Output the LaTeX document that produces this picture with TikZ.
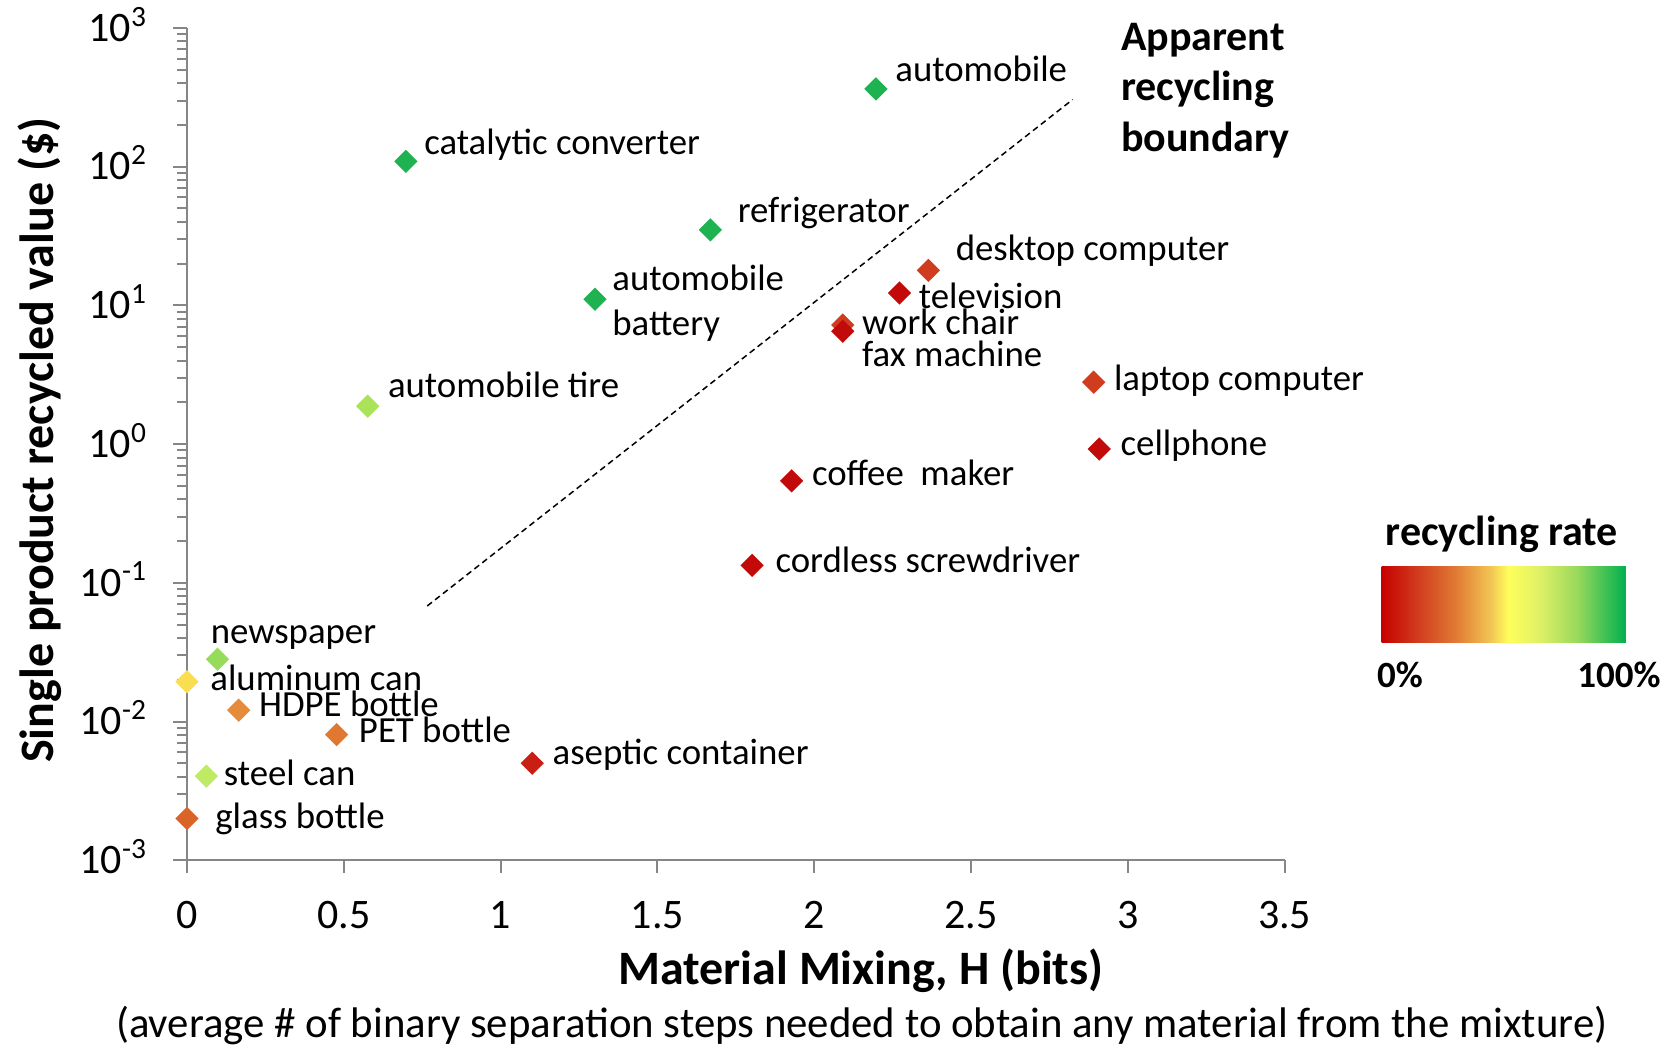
\documentclass[tikz,border=0pt]{standalone}
\usepackage{fontspec}
\setmainfont{Carlito}
\usepackage{tikz}
\usetikzlibrary{calc}
\usetikzlibrary{shapes.geometric}

\definecolor{axisgray}{RGB}{134,134,134}
\definecolor{cgreen}{RGB}{30,178,80}
\definecolor{ctire}{RGB}{170,226,90}
\definecolor{cnews}{RGB}{150,220,90}
\definecolor{calum}{RGB}{248,222,80}
\definecolor{chdpe}{RGB}{228,140,60}
\definecolor{cpet}{RGB}{224,120,50}
\definecolor{csteel}{RGB}{190,234,100}
\definecolor{cglass}{RGB}{218,100,40}
\definecolor{caseptic}{RGB}{200,30,20}
\definecolor{cdesk}{RGB}{208,60,30}
\definecolor{cdark}{RGB}{195,10,10}

\pgfdeclarehorizontalshading{recrate}{100bp}{rgb(0bp)=(0.78,0,0); rgb(25bp)=(0.78,0,0); rgb(32.5bp)=(0.82,0.24,0.12); rgb(40bp)=(0.88,0.47,0.2); rgb(47.5bp)=(0.95,0.78,0.33); rgb(51bp)=(1,1,0.36); rgb(57.5bp)=(0.87,0.94,0.4); rgb(65bp)=(0.6,0.85,0.36); rgb(75bp)=(0,0.69,0.31); rgb(100bp)=(0,0.69,0.31)}

\begin{document}
\begin{tikzpicture}[x=156.8pt,y=69.35pt,
    axis/.style={draw=axisgray,line width=1pt},
    prodmark/.style={diamond,fill=#1,inner sep=0pt,minimum size=11.8pt},
    lbl/.style={anchor=west,inner sep=0pt,text height=1.07em,text depth=0pt,font=\fontsize{18.4}{22.4}\selectfont},
    ticklbl/.style={inner sep=0pt,font=\fontsize{21}{25}\selectfont}]
    \useasboundingbox (-0.5963,-4.3338) rectangle (4.7449,3.2019);
    % axes and ticks
    \draw[axis] (0,3) -- (0,-3) -- (3.5,-3);
    \foreach \y in {-3,-2,-1,0,1,2,3}
        \draw[axis] (0,\y) -- ++(-7pt,0);
    \foreach \d in {-3,-2,-1,0,1,2}
        \foreach \k in {2,...,9}
            \draw[axis] (0,{\d+log10(\k)}) -- ++(-5pt,0);
    \foreach \x [count=\i] in {0,0.5,1,1.5,2,2.5,3,3.5}{
        \draw[axis] (\x,-3) -- ++(0,-6.5pt);
        \node[ticklbl] (xt\i) at ([yshift=-27.5pt]\x,-3) {\x};
    }
    \foreach \y [count=\i] in {-3,-2,-1,0,1,2,3}
        \node[ticklbl,anchor=base east] (yt\i) at ([xshift=-19.8pt,yshift=-6.6pt]0,\y) {10\textsuperscript{\y}};
    \node[rotate=90,font=\bfseries\fontsize{24}{28}\selectfont] (ytitle) at (-0.4703,0.028) {Single product recycled value (\$)};
    \node[font=\bfseries\fontsize{24}{28}\selectfont] (xtitle) at (2.149,-3.80) {Material Mixing, H (bits)};
    \node[font=\fontsize{21.4}{25}\selectfont] (xsub) at (2.152,-4.19) {(average \# of binary separation steps needed to obtain any material from the mixture)};
    % boundary
    \coordinate (bnd0) at (0.766,-1.167);
    \coordinate (bnd1) at (2.824,2.484);
    \draw[dashed,line width=0.75pt,dash pattern=on 3pt off 2pt] (bnd0) -- (bnd1);
    \node[anchor=north west,align=left,inner sep=0pt,font=\bfseries\fontsize{21}{25.4}\selectfont] (bndtxt) at (2.977,3.04) {Apparent\\recycling\\boundary};
    % products
    \foreach \n/\h/\v/\c/\dx/\dy/\t in {
        auto/2.197/2.561/cgreen/9.5/9/automobile,
        catconv/0.698/2.038/cgreen/9/9/catalytic converter,
        fridge/1.669/1.544/cgreen/13.5/9/refrigerator,
        tire/0.576/0.273/ctire/10/9.5/automobile tire,
        desktop/2.364/1.252/cdesk/13.5/10.5/desktop computer,
        tv/2.272/1.090/cdark/9.5/-2.5/television,
        chair/2.091/0.859/cdesk/9.5/0.5/work chair,
        fax/2.091/0.813/cdark/9.5/-12/fax machine,
        laptop/2.891/0.446/cdesk/10/1/laptop computer,
        cell/2.909/-0.035/cdark/10.5/2/cellphone,
        coffee/1.928/-0.265/cdark/10/3/coffee\ \ maker,
        screw/1.802/-0.874/cdark/11.5/2/cordless screwdriver,
        aseptic/1.101/-2.301/caseptic/10/4.5/aseptic container,
        news/0.097/-1.551/cnews/-3.5/13/newspaper,
        alum/0/-1.714/calum/11.5/1/aluminum can,
        hdpe/0.165/-1.918/chdpe/10/2/HDPE bottle,
        pet/0.477/-2.094/cpet/11/1.5/PET bottle,
        steel/0.062/-2.394/csteel/8.5/0.5/steel can,
        glass/0/-2.699/cglass/14/0.5/glass bottle}{
        \node[prodmark=\c] (\n) at (\h,\v) {};
        \node[lbl] (\n-l) at ([xshift=\dx pt,yshift=\dy pt]\n) {\t};
    }
    \node[prodmark=cgreen] (batt) at (1.301,1.045) {};
    \node[anchor=west,align=left,inner sep=0pt,font=\fontsize{18.4}{22.4}\selectfont] (batt-l) at ([xshift=8.5pt,yshift=-2pt]batt) {automobile\\battery};
    % legend
    \node[font=\bfseries\fontsize{21}{25}\selectfont] (legtitle) at (4.193,-0.650) {recycling rate};
    \shade[shading=recrate] (3.809,-0.880) rectangle (4.588,-1.43);
    \node[font=\bfseries\fontsize{18.5}{22}\selectfont] (leg0) at (3.868,-1.666) {0\%};
    \node[font=\bfseries\fontsize{18.5}{22}\selectfont] (leg100) at (4.566,-1.666) {100\%};
\end{tikzpicture}
\end{document}
